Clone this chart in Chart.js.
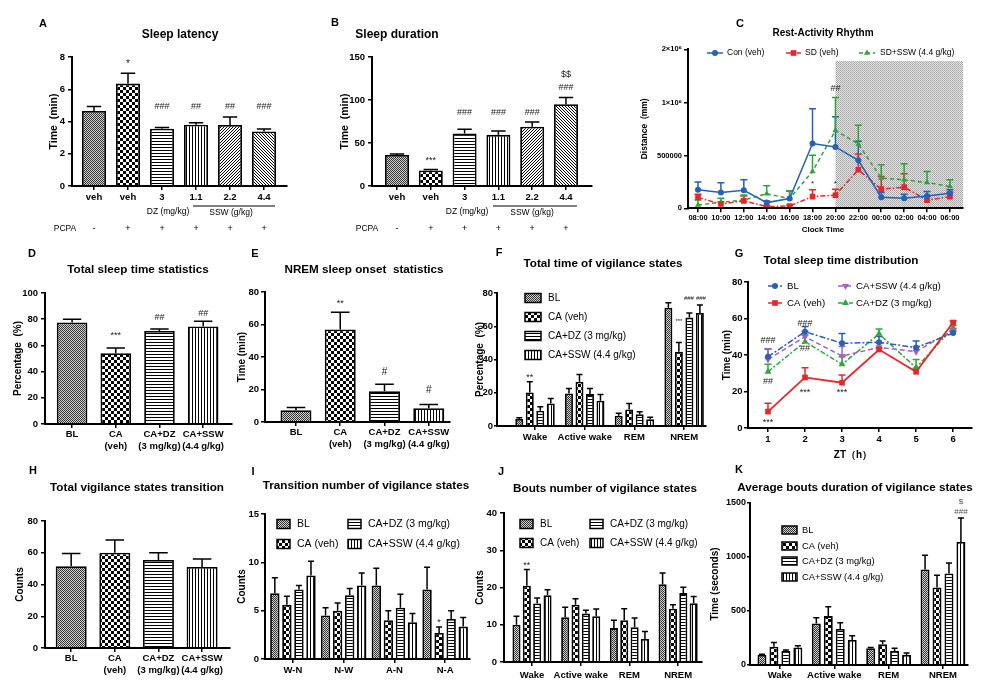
<!DOCTYPE html>
<html><head><meta charset="utf-8">
<script src="https://cdn.jsdelivr.net/npm/chart.js@4.4.1/dist/chart.umd.min.js"></script>
<style>
html,body{margin:0;padding:0;background:#fff;}
#page{position:relative;width:986px;height:690px;overflow:hidden;background:#fff;}
canvas{position:absolute;}
</style></head>
<body><div id="page"></div>
<script>
// ===================== DATA =====================
// Panel A / B
const abCats = ['veh', 'veh', '3', '1.1', '2.2', '4.4'];
const pcpaSigns = ['-', '+', '+', '+', '+', '+'];
const latencyVals = [4.65, 6.35, 3.55, 3.8, 3.78, 3.38];
const latencyErr = [0.28, 0.65, 0.08, 0.12, 0.5, 0.15];
const latencyTicks = [0, 2, 4, 6, 8];
const durationVals = [36, 18, 61, 59.5, 69, 95];
const durationErr = [1.2, 1.2, 5, 4.5, 5.5, 8];
const durationTicks = [0, 50, 100, 150];
// Panel C
const clockLabels = ['08:00','10:00','12:00','14:00','16:00','18:00','20:00','22:00','00:00','02:00','04:00','06:00'];
const conVeh    = [175e3, 149e3, 171e3, 54e3, 92e3, 613e3, 581e3, 454e3, 105e3, 95e3, 117e3, 143e3];
const conVehErr = [73e3, 92e3, 99e3, 16e3, 73e3, 330e3, 286e3, 181e3, 44e3, 38e3, 42e3, 32e3];
const sdVeh     = [102e3, 41e3, 70e3, 16e3, 22e3, 111e3, 124e3, 365e3, 181e3, 200e3, 76e3, 111e3];
const sdVehErr  = [31e3, 22e3, 47e3, 10e3, 8e3, 64e3, 57e3, 149e3, 121e3, 127e3, 35e3, 41e3];
const sdSsw     = [32e3, 57e3, 79e3, 137e3, 92e3, 349e3, 737e3, 610e3, 286e3, 270e3, 244e3, 206e3];
const sdSswErr  = [47e3, 38e3, 48e3, 76e3, 73e3, 153e3, 360e3, 177e3, 127e3, 152e3, 105e3, 64e3];
const distanceTicks = [0, 500000, 1000000, 2000000];
// Groups D / E / H
const groupLabels = [['BL'], ['CA', '(veh)'], ['CA+DZ', '(3 mg/kg)'], ['CA+SSW', '(4.4 g/kg)']];
const seriesNames = ['BL', 'CA (veh)', 'CA+DZ (3 mg/kg)', 'CA+SSW (4.4 g/kg)'];
const tstVals = [77.5, 54, 71, 74.5];
const tstErr = [2.5, 4, 1.5, 4];
const pctTicks = [0, 20, 40, 60, 80, 100];
const onsetVals = [7.2, 57, 19, 8.5];
const onsetErr = [1.8, 10.5, 4.2, 2.3];
const ticks80 = [0, 20, 40, 60, 80];
const transTotVals = [51.5, 60, 55.5, 51];
const transTotErr = [8, 8, 4.5, 5];
// Panel F
const stateLabels = ['Wake', 'Active wake', 'REM', 'NREM'];
const fBL = [4.2, 19.6, 6.2, 71.2],  fBLe = [0.8, 3, 1.4, 3];
const fCA = [20.2, 26.6, 10, 44.6],  fCAe = [6.4, 4.4, 3.6, 5.6];
const fDZ = [9.2, 19.2, 7, 65.2],    fDZe = [2.4, 3.4, 1.6, 2.8];
const fSSW = [13.6, 15.2, 4, 68],    fSSWe = [3, 3.8, 1.2, 4.8];
// Panel G
const ztVals = [1, 2, 3, 4, 5, 6];
const ztLabels = ['1', '2', '3', '4', '5', '6'];
const gBL = [39, 52.8, 46.4, 47, 44, 52],        gBLe = [4.3, 2.8, 5.4, 3.2, 3.7, 1.2];
const gCA = [9, 27.7, 24.8, 43, 30.8, 57.8],     gCAe = [4.5, 5.3, 4.2, 0.8, 1.9, 0.8];
const gSSW = [37.6, 50, 39.4, 44.2, 41.8, 53.5], gSSWe = [5.7, 3, 5.2, 2.2, 2.8, 1];
const gDZ = [30.8, 47.3, 34.9, 51.6, 33, 55],    gDZe = [4.1, 3.7, 4.1, 2.7, 4.6, 1.2];
// Panel I
const transLabels = ['W-N', 'N-W', 'A-N', 'N-A'];
const iBL = [6.8, 4.5, 7.6, 7.2],    iBLe = [1.6, 0.8, 1.8, 2.3];
const iCA = [5.6, 5.0, 4.0, 2.7],    iCAe = [0.9, 0.8, 1.0, 0.6];
const iDZ = [7.2, 6.6, 5.3, 4.15],   iDZe = [0.4, 0.7, 1.4, 0.85];
const iSSW = [8.65, 7.6, 3.8, 3.35], iSSWe = [1.45, 1.3, 0.9, 0.95];
const ticks15 = [0, 5, 10, 15];
// Panel J
const jBL = [10, 12, 9.1, 20.9],     jBLe = [2.3, 2.7, 2.1, 3];
const jCA = [20.5, 15.4, 11.2, 14.3], jCAe = [4.3, 1.6, 3.1, 1.1];
const jDZ = [15.7, 13, 9.3, 18.5],   jDZe = [1.5, 0.9, 2.5, 1.6];
const jSSW = [17.9, 12.3, 6.2, 15.8], jSSWe = [1.5, 1.9, 2, 1.8];
const ticks40 = [0, 10, 20, 30, 40];
// Panel K
const kBL = [92, 385, 154, 884],     kBLe = [8, 52, 9, 132];
const kCA = [169, 453, 191, 718],    kCAe = [40, 86, 31, 114];
const kDZ = [129, 333, 129, 847],    kDZe = [10, 58, 25, 98];
const kSSW = [163, 231, 92, 1139],   kSSWe = [16, 40, 19, 222];
const ticks1500 = [0, 500, 1000, 1500];

// ===================== SETUP =====================
const FONT = '"Liberation Sans", Arial, Helvetica, sans-serif';
Chart.defaults.font.family = FONT;
Chart.defaults.color = '#000';
const page = document.getElementById('page');

function makePattern(kind) {
  const c = document.createElement('canvas');
  let w = 3, h = 3;
  if (kind === 'fine' || kind === 'shade') { w = h = 2; }
  if (kind === 'checker') { w = h = 6; }
  c.width = w; c.height = h;
  const g = c.getContext('2d');
  const px = (x, y, col) => { g.fillStyle = col; g.fillRect(x, y, 1, 1); };
  g.fillStyle = '#fff'; g.fillRect(0, 0, w, h);
  if (kind === 'fine') { g.fillStyle = '#d2d2d2'; g.fillRect(0, 0, 2, 2); px(0, 0, '#333'); px(1, 1, '#333'); }
  else if (kind === 'shade') { g.fillStyle = '#e4e4e4'; g.fillRect(0, 0, 2, 2); px(0, 0, '#a4a4a4'); px(1, 1, '#b4b4b4'); }
  else if (kind === 'checker') { g.fillStyle = '#000'; g.fillRect(0, 0, 3, 3); g.fillRect(3, 3, 3, 3); }
  else if (kind === 'hline') { g.fillStyle = '#000'; g.fillRect(0, 0, 3, 1); }
  else if (kind === 'vline') { g.fillStyle = '#000'; g.fillRect(0, 0, 1, 3); }
  else if (kind === 'diagUp') { for (let x = 0; x < 3; x++) for (let y = 0; y < 3; y++) if ((x + y) % 3 === 2) px(x, y, '#000'); }
  else if (kind === 'diagDown') { for (let x = 0; x < 3; x++) for (let y = 0; y < 3; y++) if (x === y) px(x, y, '#000'); }
  return g.createPattern(c, 'repeat');
}
const P = {
  fine: makePattern('fine'), checker: makePattern('checker'), hline: makePattern('hline'),
  vline: makePattern('vline'), diagUp: makePattern('diagUp'), diagDown: makePattern('diagDown'),
  shade: makePattern('shade')
};
const groupFills = [P.fine, P.checker, P.hline, P.vline];
const abFills = [P.fine, P.checker, P.hline, P.vline, P.diagUp, P.diagDown];

// segmented y-scale for panel C (0-1e6 lower segment, 1e6-2e6 compressed upper)
const BRK = 1e6, FR = 0.664;
class SegLinear extends Chart.LinearScale {
  getPixelForValue(v) {
    if (v === null || v === undefined || isNaN(v)) return NaN;
    const d = v <= BRK ? (v - this.min) / (BRK - this.min) * FR : FR + (v - BRK) / (this.max - BRK) * (1 - FR);
    return this.getPixelForDecimal(d);
  }
  getValueForPixel(p) {
    const d = this.getDecimalForPixel(p);
    return d <= FR ? this.min + d / FR * (BRK - this.min) : BRK + (d - FR) / (1 - FR) * (this.max - BRK);
  }
}
SegLinear.id = 'segLinear';
SegLinear.defaults = Chart.LinearScale.defaults;
Chart.register(SegLinear);

function txt(ctx, s, x, y, size, bold, align, color, rot) {
  ctx.save();
  ctx.font = (bold ? 'bold ' : '') + size + 'px ' + FONT;
  ctx.fillStyle = color || '#000';
  ctx.textAlign = align || 'center';
  ctx.textBaseline = 'middle';
  ctx.translate(x, y);
  if (rot) ctx.rotate(rot);
  ctx.fillText(s, 0, 0);
  ctx.restore();
}
function marker(ctx, style, x, y, r, rot, color) {
  ctx.save();
  ctx.fillStyle = color; ctx.beginPath();
  if (style === 'rect') { const s = r * Math.SQRT1_2; ctx.rect(x - s, y - s, 2 * s, 2 * s); }
  else if (style === 'triangle') {
    const dn = rot ? -1 : 1;
    ctx.moveTo(x, y - dn * r); ctx.lineTo(x - r * 0.866, y + dn * r * 0.5); ctx.lineTo(x + r * 0.866, y + dn * r * 0.5); ctx.closePath();
  } else ctx.arc(x, y, r, 0, Math.PI * 2);
  ctx.fill(); ctx.restore();
}
function barLegend(items, w, h, gap, size) {
  return (ctx, chart) => items.forEach(([di, x, y]) => {
    const ds = chart.data.datasets[di];
    ctx.fillStyle = ds.backgroundColor; ctx.fillRect(x, y - h / 2, w, h);
    ctx.lineWidth = 1.5; ctx.strokeStyle = '#000'; ctx.strokeRect(x, y - h / 2, w, h);
    txt(ctx, ds.label, x + w + gap, y, size, false, 'left');
  });
}
function lineLegend(items, size) {
  return (ctx, chart) => items.forEach(([di, xa, xb, y, tx]) => {
    const ds = chart.data.datasets[di];
    ctx.save(); ctx.strokeStyle = ds.borderColor; ctx.lineWidth = 1.5; ctx.setLineDash(ds.borderDash || []);
    ctx.beginPath(); ctx.moveTo(xa, y); ctx.lineTo(xb, y); ctx.stroke(); ctx.restore();
    marker(ctx, ds.pointStyle, (xa + xb) / 2, y, ds.pointRadius, ds.pointRotation, ds.borderColor);
    txt(ctx, ds.label, tx, y, size, false, 'left');
  });
}
function drawErrs(ctx, chart, L, T, isBar) {
  const ys = chart.scales.y;
  chart.data.datasets.forEach((ds, di) => {
    if (!ds.errs) return;
    const meta = chart.getDatasetMeta(di);
    meta.data.forEach((el, i) => {
      const e = ds.errs[i]; if (!e) return;
      const v = ds.data[i].y;
      const x = el.x + L, yb = el.y + T, yt = ys.getPixelForValue(v + e) + T;
      const hw = isBar ? Math.max(3, el.width * 0.3) : 3.5;
      ctx.save();
      ctx.strokeStyle = ds.errColor || '#000'; ctx.lineWidth = 1.5; ctx.setLineDash([]);
      ctx.beginPath(); ctx.moveTo(x, yb); ctx.lineTo(x, yt); ctx.moveTo(x - hw, yt); ctx.lineTo(x + hw, yt); ctx.stroke();
      ctx.restore();
    });
  });
}
function drawAnnots(ctx, chart, L, T, list) {
  const xs = chart.scales.x, ys = chart.scales.y;
  list.forEach(a => {
    const x = (a.ds !== undefined ? chart.getDatasetMeta(a.ds).data[a.i].x : xs.getPixelForValue(a.x)) + L + (a.dx || 0);
    const size = a.s || 9;
    let y = ys.getPixelForValue(a.y) + T;
    if (/^\*+$/.test(a.t)) y += size * 0.28;
    txt(ctx, a.t, x, y, size, false, 'center', a.c || '#222');
  });
}

function panel(o) {
  const [L, T, W, H] = o.rect, [x0, y0, x1, y1] = o.plot;
  const cv = document.createElement('canvas');
  cv.width = W; cv.height = H;
  Object.assign(cv.style, { left: L + 'px', top: T + 'px', width: W + 'px', height: H + 'px' });
  page.appendChild(cv);
  const ts = o.yTitleSize || 10;
  const pl = Math.max(0, o.yTitleCx - L - ts * 0.6);
  const yW = x0 - L - pl, xH = T + H - y1;
  const isBar = o.type === 'bar';
  const datasets = o.series.map(s => {
    const d = { label: s.label, data: s.vals.map((v, i) => ({ x: o.xVals[i], y: v })), errs: s.errs };
    if (isBar) Object.assign(d, { backgroundColor: s.fill, borderColor: '#000', borderWidth: 1.8,
      categoryPercentage: o.catPct, barPercentage: o.barPct });
    else Object.assign(d, { borderColor: s.color, backgroundColor: s.color, pointBackgroundColor: s.color,
      pointBorderColor: s.color, borderWidth: s.lw || 1.5, borderDash: s.dash || [], pointStyle: s.marker,
      pointRadius: s.r || 3, pointRotation: s.rot || 0, pointBorderWidth: 0, tension: 0, fill: false, errColor: s.color });
    return d;
  });
  const border = { display: true, color: '#000', width: 2, z: 1 };
  const grid = { display: true, drawOnChartArea: false, drawTicks: true, tickLength: 4, color: '#000', lineWidth: 1.5, offset: false };
  const ygrid = Object.assign({}, grid, { tickLength: o.yTickLen || 4 });
  const deco = {
    id: 'deco',
    beforeDatasetsDraw(chart) {
      const ctx = chart.ctx; ctx.save(); ctx.translate(-L, -T);
      if (o.under) o.under(ctx, chart, L, T);
      if (!isBar) drawErrs(ctx, chart, L, T, false);
      ctx.restore();
    },
    afterDatasetsDraw(chart) {
      const ctx = chart.ctx; ctx.save(); ctx.translate(-L, -T);
      if (isBar) drawErrs(ctx, chart, L, T, true);
      drawAnnots(ctx, chart, L, T, o.annots || []);
      ctx.restore();
    },
    afterDraw(chart) {
      const ctx = chart.ctx; ctx.save(); ctx.translate(-L, -T);
      (o.texts || []).forEach(t => txt(ctx, t[0], t[1], t[2], t[3], t[4], t[5], t[6]));
      if (o.legend) o.legend(ctx, chart);
      if (o.over) o.over(ctx, chart, L, T);
      ctx.restore();
    }
  };
  return new Chart(cv, {
    type: o.type,
    data: { datasets },
    options: {
      responsive: false, animation: false, devicePixelRatio: 1, maintainAspectRatio: false,
      layout: { padding: { left: pl, top: y0 - T, right: L + W - x1, bottom: 0 } },
      plugins: { legend: { display: false }, tooltip: { enabled: false }, title: { display: false } },
      scales: {
        x: {
          type: 'linear', min: o.xMin, max: o.xMax, offset: false, bounds: 'data', border, grid,
          afterBuildTicks: s => { s.ticks = o.xVals.map(v => ({ value: v })); },
          afterFit: s => { s.height = xH; },
          ticks: { autoSkip: false, maxRotation: 0, minRotation: 0, padding: o.xPad ?? 1, color: '#000',
            font: { size: o.xFont || 9.5, weight: 'bold', lineHeight: 1.27 }, callback: (v, i) => o.xLabels[i] }
        },
        y: {
          type: o.yType || 'linear', min: 0, max: o.yMax, border, grid: ygrid,
          afterBuildTicks: s => { s.ticks = o.yTicks.map(v => ({ value: v })); },
          afterFit: s => { s.width = yW; },
          ticks: { padding: o.yPad ?? 3, color: '#000', font: { size: o.yFont || 9.5, weight: 'bold' }, callback: o.yFmt || (v => String(v)) },
          title: { display: true, text: o.yTitle, color: '#000', padding: 0, font: { size: ts, weight: 'bold' } }
        }
      }
    },
    plugins: [deco]
  });
}
const idx = n => Array.from({ length: n }, (_, i) => i);
const pcpaRow = (ctx, chart, L, T) => {
  chart.getDatasetMeta(0).data.forEach((el, i) => txt(ctx, pcpaSigns[i], el.x + L, 229, 9, false));
};
const hLine = (ctx, xa, xb, y) => { ctx.save(); ctx.strokeStyle = '#000'; ctx.lineWidth = 1; ctx.beginPath(); ctx.moveTo(xa, y); ctx.lineTo(xb, y); ctx.stroke(); ctx.restore(); };
const groupSeries = (vals, errs) => vals.map((v, k) => ({ label: seriesNames[k], vals: v, errs: errs[k], fill: groupFills[k] }));

// ===================== PANELS =====================
// A
panel({
  rect: [0, 0, 300, 240], plot: [72, 57, 287, 186], type: 'bar',
  xVals: idx(6), xLabels: abCats, xMin: -0.647, xMax: 5.676, xPad: 1.3,
  yMax: 8, yTicks: latencyTicks, yTitle: 'Time  (min)', yTitleCx: 54, yTitleSize: 10.5,
  catPct: 1, barPct: 0.706,
  series: [{ label: 'Sleep latency', vals: latencyVals, errs: latencyErr, fill: abFills }],
  annots: [{ ds: 0, i: 1, t: '*', y: 7.7, s: 10 }, { ds: 0, i: 2, t: '###', y: 4.9 }, { ds: 0, i: 3, t: '##', y: 4.9 },
           { ds: 0, i: 4, t: '##', y: 4.95 }, { ds: 0, i: 5, t: '###', y: 4.95 }],
  texts: [['A', 43, 24, 11, true], ['Sleep latency', 180, 35, 12, true], ['DZ (mg/kg)', 168, 212, 8.5, false],
          ['SSW (g/kg)', 231, 213, 8.5, false], ['PCPA', 65, 229, 8.5, false]],
  over: (ctx, chart, L, T) => { hLine(ctx, 193, 275, 206); pcpaRow(ctx, chart, L, T); }
});
// B
panel({
  rect: [300, 0, 330, 240], plot: [372, 57, 592, 186], type: 'bar',
  xVals: idx(6), xLabels: abCats, xMin: -0.74, xMax: 5.77, xPad: 1.3,
  yMax: 150, yTicks: durationTicks, yTitle: 'Time  (min)', yTitleCx: 345, yTitleSize: 10.5,
  catPct: 1, barPct: 0.71,
  series: [{ label: 'Sleep duration', vals: durationVals, errs: durationErr, fill: abFills }],
  annots: [{ ds: 0, i: 1, t: '***', y: 32 }, { ds: 0, i: 2, t: '###', y: 85 }, { ds: 0, i: 3, t: '###', y: 85 },
           { ds: 0, i: 4, t: '###', y: 85 }, { ds: 0, i: 5, t: '###', y: 115 }, { ds: 0, i: 5, t: '$$', y: 130 }],
  texts: [['B', 335, 23, 11, true], ['Sleep duration', 397, 35, 12, true], ['DZ (mg/kg)', 467, 212, 8.5, false],
          ['SSW (g/kg)', 532, 213, 8.5, false], ['PCPA', 367, 229, 8.5, false]],
  over: (ctx, chart, L, T) => { hLine(ctx, 493, 577, 206); pcpaRow(ctx, chart, L, T); }
});
// C
panel({
  rect: [636, 0, 350, 240], plot: [688, 49.3, 963, 208.3], type: 'line', yType: 'segLinear',
  xVals: idx(12), xLabels: clockLabels, xMin: -0.437, xMax: 11.57, xFont: 7.5, xPad: 1,
  yMax: 2e6, yTicks: distanceTicks, yFont: 7.5, yPad: 2,
  yFmt: v => (v === 0 ? '0' : v === 500000 ? '500000' : v === 1000000 ? '1×10⁶' : '2×10⁶'),
  yTitle: 'Distance  (mm)', yTitleCx: 645, yTitleSize: 8.5,
  series: [
    { label: 'Con (veh)', vals: conVeh, errs: conVehErr, color: '#2461b8', marker: 'circle', r: 3 },
    { label: 'SD (veh)', vals: sdVeh, errs: sdVehErr, color: '#e8262a', marker: 'rect', r: 4, dash: [5, 2, 1.5, 2] },
    { label: 'SD+SSW (4.4 g/kg)', vals: sdSsw, errs: sdSswErr, color: '#2fa33a', marker: 'triangle', r: 3.5, dash: [4, 3] }
  ],
  under: (ctx, chart, L, T) => {
    const xs = chart.scales.x, ys = chart.scales.y, ca = chart.chartArea;
    const xa = xs.getPixelForValue(6) + L, top = ys.getPixelForValue(1.78e6) + T;
    ctx.fillStyle = P.shade; ctx.fillRect(xa, top, ca.right + L - xa, ca.bottom + T - top);
  },
  annots: [{ x: 6, t: '##', y: 1.26e6, s: 9 }, { x: 5, t: '*', y: 250e3, s: 8 }, { x: 6, t: '*', y: 250e3, s: 8 }],
  texts: [['C', 740, 24, 11, true], ['Rest-Activity Rhythm', 823, 33, 10, true], ['Clock Time', 823, 230, 8, true]],
  legend: lineLegend([[0, 707, 723, 53, 727], [1, 786, 801, 53, 805], [2, 859, 875, 53, 880]], 8.5)
});
// D
panel({
  rect: [0, 240, 235, 215], plot: [45, 293, 232, 424], type: 'bar',
  xVals: idx(4), xLabels: groupLabels, xMin: -0.62, xMax: 3.66, xPad: 0,
  yMax: 100, yTicks: pctTicks, yTitle: 'Percentage  (%)', yTitleCx: 18, yTitleSize: 10,
  catPct: 1, barPct: 0.7,
  series: [{ label: 'Total sleep time', vals: tstVals, errs: tstErr, fill: groupFills }],
  annots: [{ ds: 0, i: 1, t: '***', y: 69.5 }, { ds: 0, i: 2, t: '##', y: 81 }, { ds: 0, i: 3, t: '##', y: 84.7 }],
  texts: [['D', 32, 254, 11, true], ['Total sleep time statistics', 138, 270, 11.7, true]]
});
// E
panel({
  rect: [232, 240, 225, 215], plot: [265, 292, 450, 422], type: 'bar',
  xVals: idx(4), xLabels: groupLabels, xMin: -0.70, xMax: 3.48, xPad: 0,
  yMax: 80, yTicks: ticks80, yTitle: 'Time (min)', yTitleCx: 242, yTitleSize: 10, yPad: 2,
  catPct: 1, barPct: 0.7,
  series: [{ label: 'NREM onset', vals: onsetVals, errs: onsetErr, fill: groupFills }],
  annots: [{ ds: 0, i: 1, t: '**', y: 74.5 }, { ds: 0, i: 2, t: '#', y: 30.8, s: 10 }, { ds: 0, i: 3, t: '#', y: 19.7, s: 10 }],
  texts: [['E', 255, 254, 11, true], ['NREM sleep onset  statistics', 364, 270, 11.7, true]]
});
// F
panel({
  rect: [470, 240, 245, 215], plot: [497, 293, 706, 426], type: 'bar',
  xVals: idx(4), xLabels: stateLabels, xMin: -0.765, xMax: 3.44, xPad: 1.3,
  yMax: 80, yTicks: ticks80, yTitle: 'Percentage  (%)', yTitleCx: 480, yTitleSize: 10, yPad: 1, yTickLen: 3,
  catPct: 0.845, barPct: 0.76,
  series: groupSeries([fBL, fCA, fDZ, fSSW], [fBLe, fCAe, fDZe, fSSWe]),
  annots: [{ ds: 1, i: 0, t: '**', y: 30.7 }, { ds: 1, i: 3, t: '***', y: 63.8, s: 6 },
           { ds: 2, i: 3, t: '###', y: 77, s: 6, dx: -0.5 }, { ds: 3, i: 3, t: '###', y: 77, s: 6, dx: 1 }],
  texts: [['F', 499, 253, 11, true], ['Total time of vigilance states', 603, 264, 11.7, true]],
  legend: barLegend([[0, 525, 298], [1, 525, 317], [2, 525, 336], [3, 525, 355]], 16, 9, 7, 10)
});
// G
panel({
  rect: [700, 240, 286, 220], plot: [748, 282, 972, 428], type: 'line',
  xVals: ztVals, xLabels: ztLabels, xMin: 0.46, xMax: 6.51, xPad: 1.5,
  yMax: 80, yTicks: ticks80, yTitle: 'Time (min)', yTitleCx: 727, yTitleSize: 10, yPad: 1.5,
  series: [
    { label: 'BL', vals: gBL, errs: gBLe, color: '#2a5fb5', marker: 'circle', r: 3, dash: [6, 2, 2, 2] },
    { label: 'CA (veh)', vals: gCA, errs: gCAe, color: '#e8262a', marker: 'rect', r: 4, lw: 1.8 },
    { label: 'CA+SSW (4.4 g/kg)', vals: gSSW, errs: gSSWe, color: '#a461bd', marker: 'triangle', r: 4, rot: 180, dash: [5, 3] },
    { label: 'CA+DZ (3 mg/kg)', vals: gDZ, errs: gDZe, color: '#2ca83a', marker: 'triangle', r: 4, dash: [5, 2, 2, 2] }
  ],
  annots: [{ x: 1, t: '###', y: 48.2 }, { x: 1, t: '##', y: 25.2 }, { x: 1, t: '***', y: 4.4 },
           { x: 2, t: '###', y: 57.5 }, { x: 2, t: '##', y: 43.3 }, { x: 2, t: '***', y: 20.8 }, { x: 3, t: '***', y: 20.8 }],
  texts: [['G', 739, 254, 11, true], ['Total sleep time distribution', 841, 261, 11.7, true], ['ZT（h）', 853, 455, 10, true]],
  legend: lineLegend([[0, 768, 782, 286, 787], [2, 838, 853, 286, 856], [1, 768, 782, 303, 787], [3, 838, 853, 303, 856]], 9.7)
});
// H
panel({
  rect: [0, 460, 235, 230], plot: [45, 521, 230, 648], type: 'bar',
  xVals: idx(4), xLabels: groupLabels, xMin: -0.6, xMax: 3.64, xPad: 0,
  yMax: 80, yTicks: ticks80, yTitle: 'Counts', yTitleCx: 20, yTitleSize: 10,
  catPct: 1, barPct: 0.71,
  series: [{ label: 'Transitions', vals: transTotVals, errs: transTotErr, fill: groupFills }],
  texts: [['H', 33, 471, 11, true], ['Total vigilance states transition', 137, 488, 11.7, true]]
});
// I
panel({
  rect: [232, 460, 243, 230], plot: [265, 514, 470, 659], type: 'bar',
  xVals: idx(4), xLabels: transLabels, xMin: -0.55, xMax: 3.49, xPad: 1.3,
  yMax: 15, yTicks: ticks15, yTitle: 'Counts', yTitleCx: 242, yTitleSize: 10, yPad: 2,
  catPct: 0.95, barPct: 0.78,
  series: groupSeries([iBL, iCA, iDZ, iSSW], [iBLe, iCAe, iDZe, iSSWe]),
  annots: [{ ds: 1, i: 3, t: '*', y: 4.0 }],
  texts: [['I', 253, 472, 11, true], ['Transition number of vigilance states', 366, 486, 11.7, true]],
  legend: barLegend([[0, 277, 524], [1, 277, 544], [2, 348, 524], [3, 348, 544]], 13, 9, 7, 10.5)
});
// J
panel({
  rect: [470, 460, 240, 230], plot: [504, 513, 702, 662], type: 'bar',
  xVals: idx(4), xLabels: stateLabels, xMin: -0.575, xMax: 3.49, xPad: 3,
  yMax: 40, yTicks: ticks40, yTitle: 'Counts', yTitleCx: 480, yTitleSize: 10,
  catPct: 0.85, barPct: 0.78,
  series: groupSeries([jBL, jCA, jDZ, jSSW], [jBLe, jCAe, jDZe, jSSWe]),
  annots: [{ ds: 1, i: 0, t: '**', y: 26.6 }],
  texts: [['J', 501, 472, 11, true], ['Bouts number of vigilance states', 605, 489, 11.7, true]],
  legend: barLegend([[0, 520, 524], [1, 520, 543], [2, 590, 524], [3, 590, 543]], 13, 9, 7, 10)
});
// K
panel({
  rect: [705, 460, 281, 230], plot: [750, 503, 968, 665], type: 'bar',
  xVals: idx(4), xLabels: stateLabels, xMin: -0.55, xMax: 3.46, xPad: 0.3,
  yMax: 1500, yTicks: ticks1500, yTitle: 'Time (seconds)', yTitleCx: 715, yTitleSize: 10, yPad: 1, yTickLen: 3, yFont: 9,
  catPct: 0.88, barPct: 0.75,
  series: groupSeries([kBL, kCA, kDZ, kSSW], [kBLe, kCAe, kDZe, kSSWe]),
  annots: [{ ds: 3, i: 3, t: '###', y: 1417, s: 8, c: '#555' }, { ds: 3, i: 3, t: '$', y: 1509, s: 8, c: '#555' }],
  texts: [['K', 739, 470, 11, true], ['Average bouts duration of vigilance states', 855, 488, 11.7, true]],
  legend: barLegend([[0, 782, 530], [1, 782, 546], [2, 782, 561], [3, 782, 577]], 15, 8, 5, 9.3)
});
</script>
</body></html>
